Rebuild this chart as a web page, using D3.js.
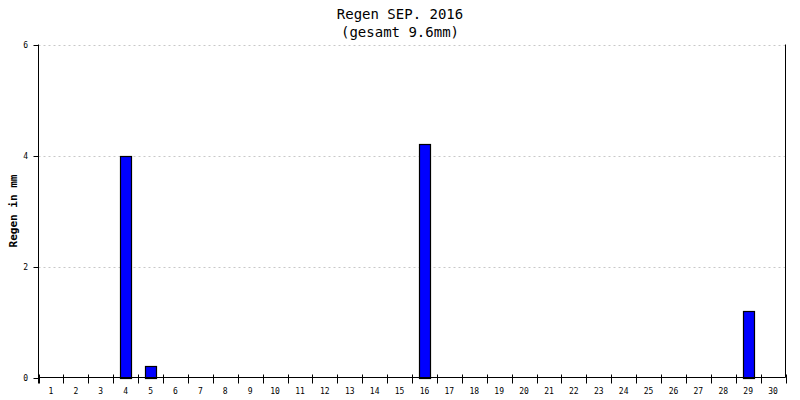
<!DOCTYPE html>
<html><head><meta charset="utf-8">
<script src="https://cdn.jsdelivr.net/npm/d3@7"></script>
<style>body{margin:0;background:#fff}svg{display:block}</style>
</head><body>
<svg id="c" width="800" height="400"></svg>
<script>
const days = d3.range(1,31).map(String);
const rain = [0,0,0,4.0,0.2,0,0,0,0,0,0,0,0,0,0,4.2,0,0,0,0,0,0,0,0,0,0,0,0,1.2,0];
const yTicks = [0,2,4,6];
const title1 = "Regen SEP. 2016";
const title2 = "(gesamt 9.6mm)";
const yLabel = "Regen in mm";

const svg = d3.select("#c");
const L=38.5, R=785.5, T=44.5, B=377.5;
const x = d3.scaleBand().domain(days).range([L,R]);
const y = d3.scaleLinear().domain([0,6]).range([B,T]);
const font = "'DejaVu Sans Mono', monospace";

// grid
svg.append("g").selectAll("line").data(yTicks.filter(d=>d>0)).join("line")
  .attr("x1",L).attr("x2",R).attr("y1",d=>Math.round(y(d))+0.5).attr("y2",d=>Math.round(y(d))+0.5)
  .attr("stroke","#c8c8c8").attr("stroke-dasharray","2,3");

// bars
const bw = 11;
svg.append("g").selectAll("rect").data(days.map((d,i)=>({d,v:rain[i]})).filter(o=>o.v>0)).join("rect")
  .attr("x",o=>Math.round(x(o.d)+x.bandwidth()/2-bw/2)+0.5)
  .attr("y",o=>Math.round(y(o.v))+0.5)
  .attr("width",bw)
  .attr("height",o=>Math.round(y(0))-Math.round(y(o.v)))
  .attr("fill","#0000ff").attr("stroke","#000").attr("stroke-width",1.2);

// y axis
svg.append("line").attr("x1",L).attr("x2",L).attr("y1",T).attr("y2",B+6).attr("stroke","#000");
svg.append("line").attr("x1",R).attr("x2",R).attr("y1",T).attr("y2",B).attr("stroke","#000");
svg.append("g").selectAll("line").data(yTicks).join("line")
  .attr("x1",L-5).attr("x2",L).attr("y1",d=>Math.round(y(d))+0.5).attr("y2",d=>Math.round(y(d))+0.5).attr("stroke","#000");
svg.append("g").selectAll("text").data(yTicks).join("text")
  .attr("x",28).attr("y",d=>y(d)+3).attr("text-anchor","end")
  .attr("font-family",font).attr("font-size",8).text(d=>d);

// x axis
svg.append("line").attr("x1",L).attr("x2",R).attr("y1",B).attr("y2",B).attr("stroke","#000");
const bounds = days.map(d=>x(d)).concat([R]);
svg.append("g").selectAll("line").data(bounds).join("line")
  .attr("x1",d=>Math.round(d)+0.5).attr("x2",d=>Math.round(d)+0.5).attr("y1",B-3).attr("y2",B+6).attr("stroke","#000");
svg.append("g").selectAll("text").data(days).join("text")
  .attr("x",d=>x(d)+x.bandwidth()/2).attr("y",394).attr("text-anchor","middle")
  .attr("font-family",font).attr("font-size",8).text(d=>d);

// titles
svg.append("text").attr("x",400).attr("y",19).attr("text-anchor","middle")
  .attr("font-family",font).attr("font-size",14).text(title1);
svg.append("text").attr("x",400).attr("y",37).attr("text-anchor","middle")
  .attr("font-family",font).attr("font-size",14).text(title2);
svg.append("text").attr("transform","translate(17,211) rotate(-90)").attr("text-anchor","middle")
  .attr("font-family",font).attr("font-weight","bold").attr("font-size",11).text(yLabel);
</script>
</body></html>
